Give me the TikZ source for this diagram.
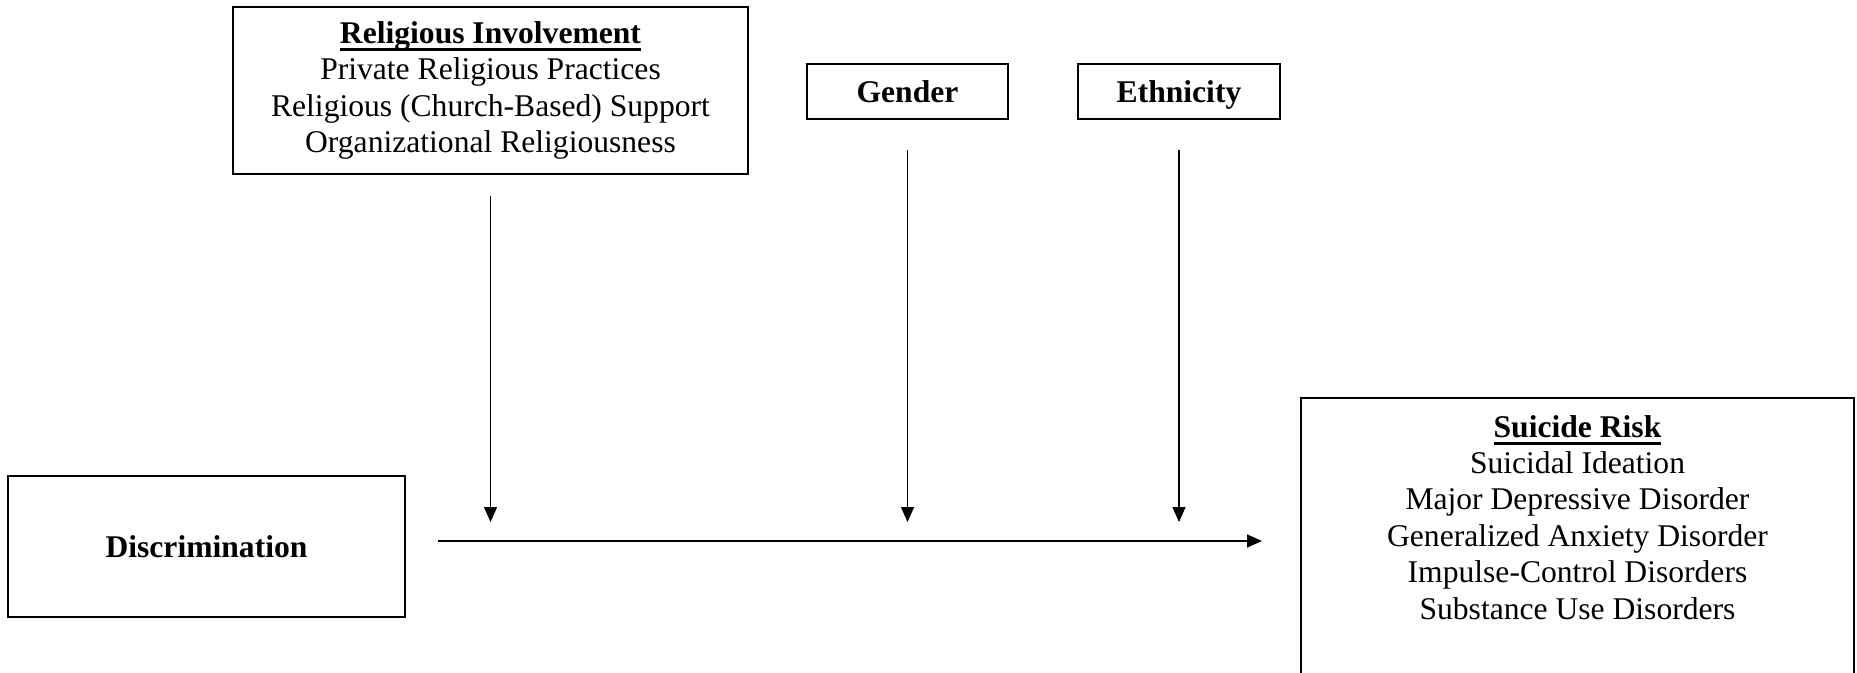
\documentclass[tikz,border=0pt]{standalone}
\usepackage{fontspec}
\setmainfont{Liberation Serif}
\usetikzlibrary{arrows.meta,calc}
\newcommand{\myul}[1]{\setbox0=\hbox{#1}\rlap{\rule[-7.5pt]{\wd0}{2.5pt}}\box0}
\begin{document}
\begin{tikzpicture}[x=1pt,y=-1pt,
  box/.style={draw,line width=2pt,inner sep=0pt,align=center,
    font=\fontsize{31.6}{36.4}\selectfont},
  onebox/.style={box,text height=21pt,text depth=0pt},
  txt/.style={inner sep=0pt,align=center,font=\fontsize{31.6}{36.4}\selectfont},
  arr/.style={line width=1.3pt,-{Triangle[length=15pt,width=13pt]}}]
\useasboundingbox (0,0) rectangle (1857,672);
\node[box,minimum width=515pt,minimum height=167pt] (relig) at (490.5,90.5)
  {\textbf{\myul{Religious Involvement}}\\Private Religious Practices\\Religious (Church-Based) Support\\Organizational Religiousness};
\node[onebox,minimum width=201pt,minimum height=55pt] (gender) at (907.5,91.5) {\textbf{Gender}};
\node[onebox,minimum width=202pt,minimum height=55pt] (ethn) at (1179,91.5) {\textbf{Ethnicity}};
\node[onebox,minimum width=397pt,minimum height=141pt] (disc) at (206.5,546.5) {\textbf{Discrimination}};
\node[box,minimum width=553pt,minimum height=400pt] (risk) at (1577.5,598) {};
\node[txt,anchor=north] (risktext) at ($(risk.north)+(0,18)$)
  {\textbf{\myul{Suicide Risk}}\\Suicidal Ideation\\Major Depressive Disorder\\Generalized Anxiety Disorder\\Impulse-Control Disorders\\Substance Use Disorders};
% main path
\coordinate (hs) at ($(disc.east)+(32,-5.5)$);
\coordinate (he) at (hs -| risk.west);
\draw[arr,shorten >=38pt] (hs) -- (he);
% moderators
\draw[arr,shorten <=21pt,shorten >=19pt] (relig.south) -- (relig.south |- hs);
\draw[arr,shorten <=30pt,shorten >=19pt] (gender.south) -- (gender.south |- hs);
\draw[arr,shorten <=30pt,shorten >=19pt] (ethn.south) -- (ethn.south |- hs);
\end{tikzpicture}
\end{document}
